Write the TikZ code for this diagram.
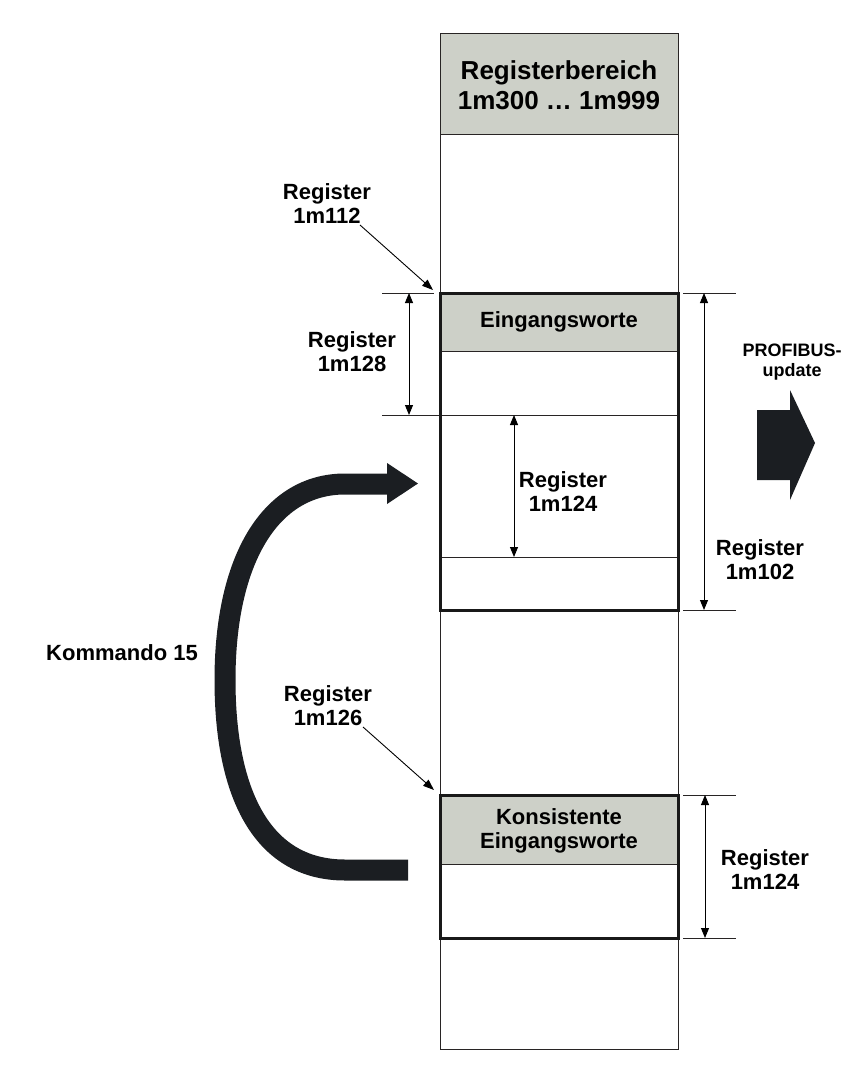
\documentclass[tikz,border=0pt]{standalone}
\usepackage{fontspec}
\setmainfont{Liberation Sans}
\usetikzlibrary{arrows.meta}
\definecolor{hdrgray}{RGB}{205,208,200}
\definecolor{darkarrow}{RGB}{27,30,34}
\definecolor{linegray}{RGB}{40,36,36}
\tikzset{
  thin line/.style={draw=linegray,line width=1pt},
  thick box/.style={draw=black!90,line width=3pt},
  hdr/.style={fill=hdrgray},
  dimarrow/.style={draw=black,line width=0.9pt,{Triangle[length=10pt,width=8pt]}-{Triangle[length=10pt,width=8pt]}},
  ptrarrow/.style={draw=black,line width=0.9pt,-{Triangle[length=11pt,width=8pt]}},
  lbl/.style={font=\bfseries\fontsize{22}{24}\selectfont,align=center,inner sep=0pt},
}
\begin{document}
\begin{tikzpicture}[x=1pt,y=-1pt]
\useasboundingbox (0,0) rectangle (854,1086);
% main column
\fill[hdr] (440,34) rectangle (678,135);
\draw[thin line] (440,135) -- (678,135);
\draw[thin line] (440,34) rectangle (678,1049);
% box A
\fill[hdr] (440,293) rectangle (678,351);
\draw[thin line] (440,351) -- (678,351);
\draw[thin line] (382,415) -- (678,415);
\draw[thin line] (440,557) -- (678,557);
\draw[thin line] (382,293) -- (434,293);
\draw[thin line] (683,293) -- (736,293);
\draw[thin line] (683,610) -- (736,610);
\draw[thick box] (440,293) rectangle (678,610);
% box B
\fill[hdr] (440,795) rectangle (678,864);
\draw[thin line] (440,864) -- (678,864);
\draw[thin line] (683,795) -- (736,795);
\draw[thin line] (683,938) -- (736,938);
\draw[thick box] (440,795) rectangle (678,938);

% coordinates
\coordinate (d1a) at (409,293); \coordinate (d1b) at (409,415);
\coordinate (d2a) at (514,415); \coordinate (d2b) at (514,557);
\coordinate (d3a) at (704,293); \coordinate (d3b) at (704,610);
\coordinate (d4a) at (705,795); \coordinate (d4b) at (705,938);
\coordinate (p1s) at (360,225); \coordinate (p1) at (433,290);
\coordinate (p2s) at (363,727); \coordinate (p2) at (434,790);

% labels
\node[lbl,font=\bfseries\fontsize{26}{30}\selectfont] (hdr) at (559,85) {Registerbereich\\1m300 … 1m999};
\node[lbl] (r112) at (327,204) {Register\\1m112};
\node[lbl] (r128) at (352,352) {Register\\1m128};
\node[lbl] (ein) at (559,322) {Eingangsworte};
\node[lbl] (r124a) at (563,492) {Register\\1m124};
\node[lbl] (r102) at (760,560) {Register\\1m102};
\node[lbl,font=\bfseries\fontsize{18}{20}\selectfont] (pb) at (792,362) {PROFIBUS-\\update};
\node[lbl] (kom) at (122,653) {Kommando 15};
\node[lbl] (r126) at (328,706) {Register\\1m126};
\node[lbl] (kons) at (559,831) {Konsistente\\Eingangsworte};
\node[lbl] (r124b) at (765,870) {Register\\1m124};

% dimension arrows
\draw[dimarrow] (d1a) -- (d1b);
\draw[dimarrow] (d2a) -- (d2b);
\draw[dimarrow] (d3a) -- (d3b);
\draw[dimarrow] (d4a) -- (d4b);
% pointer arrows
\draw[ptrarrow] (p1s) -- (p1);
\draw[ptrarrow] (p2s) -- (p2);

% PROFIBUS arrow
\fill[darkarrow] (757,410) -- (790,410) -- (790,390) -- (815,443) -- (790,500) -- (790,480) -- (757,480) -- cycle;

% Kommando arrow
\draw[darkarrow,line width=21pt] (408,870) -- (345,870) .. controls (260,870) and (225,790) .. (225,680)
  .. controls (225,560) and (270,484) .. (345,484) -- (389,484);
\fill[darkarrow] (387,463) -- (418,483.5) -- (387,504) -- cycle;
\end{tikzpicture}
\end{document}
